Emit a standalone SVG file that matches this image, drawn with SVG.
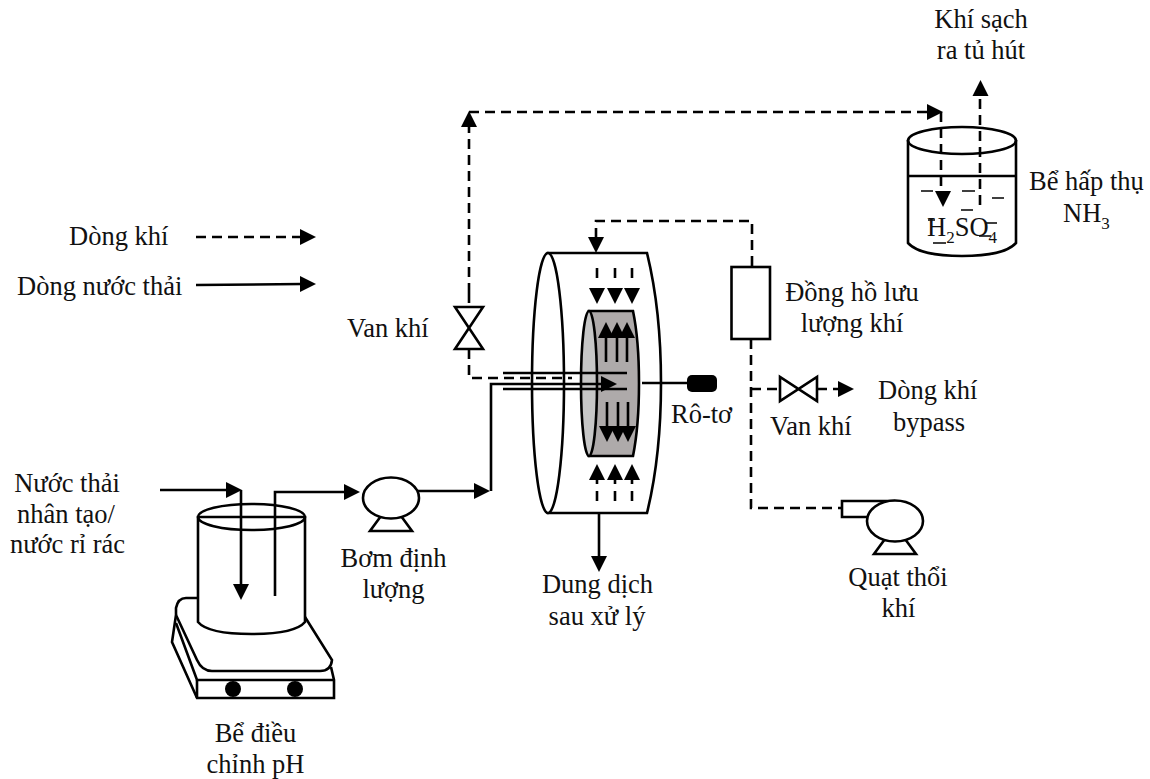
<svg xmlns="http://www.w3.org/2000/svg" width="1150" height="779" viewBox="0 0 1150 779">
<style>
text{font-family:"Liberation Serif","Times New Roman",serif;font-size:26.5px;fill:#111}
.m{text-anchor:middle}
.s{font-size:17px}
.o{fill:none;stroke:#000;stroke-width:2.6}
.w{fill:#fff;stroke:#000;stroke-width:2.6}
.c{fill:none;stroke:#000;stroke-width:2.6}
.d{fill:none;stroke:#000;stroke-width:2.6;stroke-dasharray:10 6}
.t{fill:none;stroke:#000;stroke-width:1.6}
.h{fill:#000}
</style>
<defs>
<path id="hr" d="M-16-8 0 0-16 8Z"/>
<path id="hu" d="M-8 16 0 0 8 16Z"/>
<path id="hd" d="M-8-16 0 0 8-16Z"/>
<g id="pumpLegs"><path class="o" d="M-10 18-21 33H21L10 18"/><ellipse class="w" cx="0" cy="0" rx="28" ry="20.500"/></g>
</defs>

<g id="beaker-node">
<path class="o" d="M198 598H186Q178 598 176 608V615L172 642 197 698H334V680L331 667"/>
<path class="o" d="M176 623 197 680H334"/>
<path class="w" d="M176 615 197 660Q202 671 212 671H320Q331 671 332 660L305 617"/>
<line class="o" x1="197" y1="680" x2="197" y2="698"/>
<circle class="h" cx="233" cy="689" r="8"/><circle class="h" cx="295" cy="689" r="8"/>
<path class="w" d="M198 517V622Q208 634 251.500 634 295 634 305 622V517Z"/>
<ellipse class="o" cx="251.500" cy="517" rx="53.500" ry="13"/>
</g>

<g id="pump-node"><use href="#pumpLegs" x="391" y="498"/></g>

<g id="reactor-node">
<path class="w" d="M548 253H647Q661 310 661 383 661 456 647 513H548Z"/>
<ellipse class="w" cx="548" cy="383" rx="16" ry="130"/>
<path d="M589 311H633Q639 340 639 383 639 426 633 456H589Z" fill="#aeaaaa" stroke="#000" stroke-width="2.6"/>
<ellipse cx="589" cy="383.500" rx="8" ry="72.500" fill="#c6c6c6" stroke="#000" stroke-width="2.6"/>
<rect class="h" x="687" y="375" width="30" height="17" rx="5"/>
</g>

<g id="absorber-node">
<path class="o" d="M908 140V243Q920 256 962 256 1004 256 1016 243V140"/>
<ellipse class="o" cx="962" cy="140.500" rx="54" ry="13.500"/>
<line class="o" x1="908" y1="176" x2="1016" y2="176"/>
<path class="t" d="M921 191H933M962 191H975M992 198H1004M961 210H973M986 223H997M928 220H935M933 243H946M979 236H991"/>
</g>

<g id="flowmeter-node"><rect class="w" x="731.500" y="267" width="38.500" height="72"/></g>
<g id="gas-valve-node"><path class="w" d="M455 307H483L455 349H483Z"/></g>
<g id="bypass-valve-node"><path class="w" d="M780 377V401L817 377V401Z"/></g>
<g id="fan-node">
<path class="o" d="M895 501H842V517H870"/>
<use href="#pumpLegs" x="895" y="521"/>
</g>

<g id="connectors">
<path class="d" d="M469 293V307M469 349V378H572"/>
<path class="d" d="M469 293V127"/><use class="h" href="#hu" x="469" y="111"/>
<path class="d" d="M469 112H929"/><use class="h" href="#hr" x="943" y="112"/>
<path class="d" d="M941 112V192"/><use class="h" href="#hd" x="943" y="207"/>
<path class="d" d="M980 205V96"/><use class="h" href="#hu" x="980.500" y="80"/>
<path class="d" d="M596 238V221H752V267"/><use class="h" href="#hd" x="596" y="253"/>
<path class="d" d="M751 339V508H842"/>
<path class="d" d="M751 389H780M817 389H838"/><use class="h" href="#hr" x="854" y="389"/>
<path class="d" d="M597 268V290M615 268V290M632 268V290" style="stroke-dasharray:10 30"/>
<use class="h" href="#hd" x="597" y="304"/><use class="h" href="#hd" x="615" y="304"/><use class="h" href="#hd" x="632" y="304"/>
<path class="d" d="M597 501V478M615 501V478M632 501V478" style="stroke-dasharray:10 7"/>
<use class="h" href="#hu" x="597" y="464"/><use class="h" href="#hu" x="615" y="464"/><use class="h" href="#hu" x="632" y="464"/>
<path class="c" d="M503 373H627M503 389H627M606 362V335M617 362V335M627 362V335M607 402V429M618 402V429M628 402V429M642 383H688"/>
<use class="h" href="#hu" x="606" y="322"/><use class="h" href="#hu" x="617" y="322"/><use class="h" href="#hu" x="627" y="322"/>
<use class="h" href="#hd" x="607" y="442"/><use class="h" href="#hd" x="618" y="442"/><use class="h" href="#hd" x="628" y="442"/>
<path class="c" d="M491 491V384H603"/><use class="h" href="#hr" x="617" y="384"/>
<path class="c" d="M418 491H476"/><use class="h" href="#hr" x="490" y="491"/>
<path class="c" d="M160 490H228"/><use class="h" href="#hr" x="242" y="490"/>
<path class="c" d="M241 490V586"/><use class="h" href="#hd" x="241" y="600"/>
<path class="c" d="M275 596V492H346"/><use class="h" href="#hr" x="360" y="492"/>
<path class="c" d="M599 513V558"/><use class="h" href="#hd" x="599" y="572"/>
<path class="d" d="M196 237H302"/><use class="h" href="#hr" x="316" y="237"/>
<path class="c" d="M196 285 302 284"/><use class="h" href="#hr" x="316" y="284"/>
</g>

<g id="labels">
<text class="m" x="981" y="28">Khí sạch</text><text class="m" x="981" y="59">ra tủ hút</text>
<text x="1029" y="190">Bể hấp thụ</text><text x="1063" y="222">NH<tspan class="s" dy="7">3</tspan></text>
<text x="927" y="236">H<tspan class="s" dy="7">2</tspan><tspan dy="-7">SO</tspan><tspan class="s" dy="7">4</tspan></text>
<text x="69" y="245">Dòng khí</text><text x="17" y="295">Dòng nước thải</text>
<text x="347" y="337">Van khí</text>
<text class="m" x="852" y="301">Đồng hồ lưu</text><text class="m" x="852" y="332">lượng khí</text>
<text x="671" y="423">Rô-tơ</text>
<text x="878" y="399">Dòng khí</text><text x="893" y="431">bypass</text>
<text x="770" y="435">Van khí</text>
<text class="m" x="67" y="492">Nước thải</text><text class="m" x="66" y="523">nhân tạo/</text><text class="m" x="67.500" y="553">nước rỉ rác</text>
<text class="m" x="393.500" y="567">Bơm định</text><text class="m" x="393.500" y="598">lượng</text>
<text class="m" x="597.500" y="593">Dung dịch</text><text class="m" x="597" y="625">sau xử lý</text>
<text class="m" x="898" y="586">Quạt thổi</text><text class="m" x="898.500" y="617">khí</text>
<text class="m" x="255.500" y="742">Bể điều</text><text class="m" x="255.500" y="773">chỉnh pH</text>
</g>
</svg>
